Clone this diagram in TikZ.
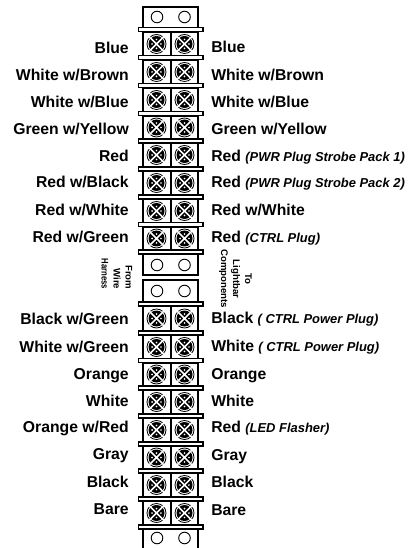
\documentclass[tikz,border=0pt]{standalone}
\usepackage{fontspec}
\usepackage{graphicx}
\setmainfont{Liberation Sans}
\newcommand{\lab}{\fontsize{11.8pt}{13pt}\selectfont\bfseries}
\newcommand{\ital}[1]{{\fontsize{9.7pt}{11pt}\selectfont\bfseries\itshape #1}}
\tikzset{
  x=0.75pt,y=-0.75pt,
  blk/.style={draw=black,line width=1.5pt},
  flange/.style={draw=black,fill=white,line width=1.1pt},
  hole/.style={draw=black,fill=white,line width=0.7pt},
  leftlab/.style={anchor=base east,inner sep=0pt,font=\lab},
  rightlab/.style={anchor=base west,inner sep=0pt,font=\lab},
  vert/.style={rotate=-90,inner sep=0pt,font=\fontsize{7.2pt}{9pt}\selectfont\bfseries},
  pics/screw/.style={code={
    \fill[black] (0,0) circle (8);
    \draw[black,line width=0.6pt] (0,0) circle (9.5);
    \draw[white,line width=1.1pt] (-7.8,-7.8) -- (7.8,7.8) (-7.8,7.8) -- (7.8,-7.8);
    \fill[white] (0,-4.4) circle (0.9) (0,4.4) circle (0.9) (-4.4,0) circle (0.9) (4.4,0) circle (0.9);
  }}
}
\begin{document}
\begin{tikzpicture}
\useasboundingbox (0,0) rectangle (408,548);
% body of the strip
\draw[blk] (143,29) -- (143,7) -- (198,7) -- (198,29);
\draw[blk] (143,254) -- (143,275) -- (198,275) -- (198,254);
\draw[blk] (143,302) -- (143,280) -- (198,280) -- (198,302);
\draw[blk] (143,528) -- (143,548) (198,528) -- (198,548);
\foreach \t/\b in {32/56,60/84,88/112,116/139,143/167,171/195,199/223,227/250,306/331,335/359,363/386,390/414,418/442,446/469,473/497,501/525}{
  \draw[blk] (143,\t) rectangle (198,\b);
  \draw[blk] (170.5,\t) -- (170.5,\b);
}
% flanges
\foreach \y in {29.5,57.5,85.5,113.5,141,169,197,224.5,252,304,333,360.5,388,416,444,471,499,527}{
  \draw[flange] (138.5,\y-2.2) rectangle (203,\y+2.2);
}
% screws
\foreach \y in {44,72,100,127.5,155,183,211,238.5,318.5,347,374.5,402,430,457.5,485,513}{
  \pic at (156.5,\y) {screw};
  \pic at (184.5,\y) {screw};
}
% plain holes
\foreach \y in {17,265,291,538}{
  \draw[hole] (157,\y) circle (5.8);
  \draw[hole] (184.5,\y) circle (5.8);
}
% left labels
\node[leftlab] (l1) at (129,54) {Blue};
\node[leftlab] (l2) at (129,81) {White w/Brown};
\node[leftlab] (l3) at (129,108) {White w/Blue};
\node[leftlab] (l4) at (129,135) {Green w/Yellow};
\node[leftlab] (l5) at (129,162) {Red};
\node[leftlab] (l6) at (129,188) {Red w/Black};
\node[leftlab] (l7) at (129,216) {Red w/White};
\node[leftlab] (l8) at (129,243) {Red w/Green};
\node[leftlab] (l9) at (129,324) {Black w/Green};
\node[leftlab] (l10) at (129,352) {White w/Green};
\node[leftlab] (l11) at (129,379) {Orange};
\node[leftlab] (l12) at (129,406) {White};
\node[leftlab] (l13) at (129,432) {Orange w/Red};
\node[leftlab] (l14) at (129,459) {Gray};
\node[leftlab] (l15) at (129,487) {Black};
\node[leftlab] (l16) at (129,514) {Bare};
% right labels
\node[rightlab] (r1) at (211,53) {Blue};
\node[rightlab] (r2) at (211,81) {White w/Brown};
\node[rightlab] (r3) at (211,108) {White w/Blue};
\node[rightlab] (r4) at (211,135) {Green w/Yellow};
\node[rightlab] (r5) at (211,162) {Red \ital{(PWR Plug Strobe Pack 1)}};
\node[rightlab] (r6) at (211,188) {Red \ital{(PWR Plug Strobe Pack 2)}};
\node[rightlab] (r7) at (211,216) {Red w/White};
\node[rightlab] (r8) at (211,243) {Red \ital{(CTRL Plug)}};
\node[rightlab] (r9) at (211,323) {Black \ital{( CTRL Power Plug)}};
\node[rightlab] (r10) at (211,351) {White \ital{( CTRL Power Plug)}};
\node[rightlab] (r11) at (211,379) {Orange};
\node[rightlab] (r12) at (211,406) {White};
\node[rightlab] (r13) at (211,432) {Red \ital{(LED Flasher)}};
\node[rightlab] (r14) at (211,460) {Gray};
\node[rightlab] (r15) at (211,487) {Black};
\node[rightlab] (r16) at (211,515) {Bare};
% vertical labels
\node[vert,align=right] (wh) at (117,274) {From\\Wire\\\scalebox{0.8}[1]{Harness}};
\node[vert,align=center] (lc) at (235.5,279) {To\\Lightbar\\Components};
\end{tikzpicture}
\end{document}
